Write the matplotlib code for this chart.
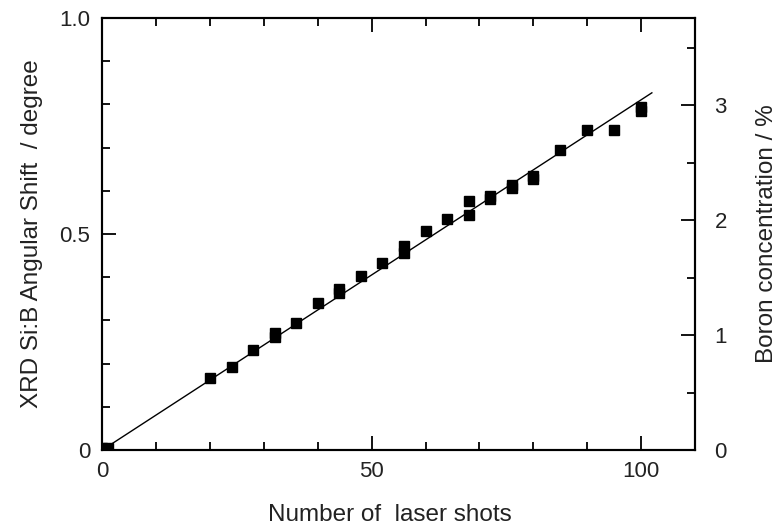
import numpy as np
import matplotlib
matplotlib.use("Agg")
import matplotlib.pyplot as plt
from matplotlib.ticker import MultipleLocator

plt.rcParams['font.family'] = ['Liberation Sans', 'DejaVu Sans']

# data
shots = [0, 1, 20, 24, 28, 32, 32, 36, 40, 44, 44, 48, 52, 56, 56, 60, 64,
         68, 68, 72, 72, 76, 76, 80, 80, 85, 90, 95, 100, 100]
shift = [0.005, 0.005, 0.167, 0.192, 0.232, 0.272, 0.261, 0.294, 0.340, 0.373,
         0.363, 0.402, 0.434, 0.472, 0.457, 0.508, 0.535, 0.577, 0.544, 0.588,
         0.582, 0.613, 0.606, 0.635, 0.627, 0.695, 0.742, 0.741, 0.795, 0.785]
fit_x = [0, 102]
fit_y = [0, 0.827]
# one % boron per this many degrees of shift
deg_per_pct = 0.266

fig = plt.figure(figsize=(7.8, 5.32), dpi=100)
ax = fig.add_axes([0.131, 0.154, 0.76, 0.812])

ax.plot(fit_x, fit_y, color='black', lw=1.0)
ax.plot(shots, shift, 's', color='black', ms=6.5, clip_on=True)

ax.set_xlim(0, 110)
ax.set_ylim(0, 1.0)
ax.xaxis.set_major_locator(MultipleLocator(50))
ax.xaxis.set_minor_locator(MultipleLocator(10))
ax.yaxis.set_major_locator(MultipleLocator(0.5))
ax.yaxis.set_minor_locator(MultipleLocator(0.1))
ax.xaxis.set_major_formatter(plt.FuncFormatter(lambda v, p: f"{v:g}"))
ax.yaxis.set_major_formatter(plt.FuncFormatter(lambda v, p: "0" if v == 0 else f"{v:.1f}"))
ax.tick_params(which='both', direction='in', top=True, right=False, width=1.3, labelsize=16,
               colors='black', labelcolor='#222222')
ax.tick_params(which='major', length=10)
ax.tick_params(which='minor', length=6)
ax.tick_params(axis='x', pad=8)
ax.tick_params(axis='y', pad=8.5)

for s in ax.spines.values():
    s.set_linewidth(1.5)

ax.set_xlabel("Number of  laser shots", fontsize=17.5, color='#222222')
ax.xaxis.set_label_coords(0.486, -0.125)
ax.set_ylabel("XRD Si:B Angular Shift  / degree", fontsize=17.5, labelpad=12, color='#222222')

ax2 = ax.twinx()
ax2.set_ylim(0, 1.0 / deg_per_pct)
ax2.yaxis.set_major_locator(MultipleLocator(1))
ax2.yaxis.set_minor_locator(MultipleLocator(0.5))
ax2.tick_params(which='both', direction='in', width=1.3, labelsize=16, pad=14,
                labelcolor='#222222')
ax2.tick_params(which='major', length=10)
ax2.tick_params(which='minor', length=6)
ax2.set_ylabel("Boron concentration / %", fontsize=17.5, labelpad=21, color='#222222')
for s in ax2.spines.values():
    s.set_linewidth(1.5)

fig.savefig("out.png", dpi=100)
